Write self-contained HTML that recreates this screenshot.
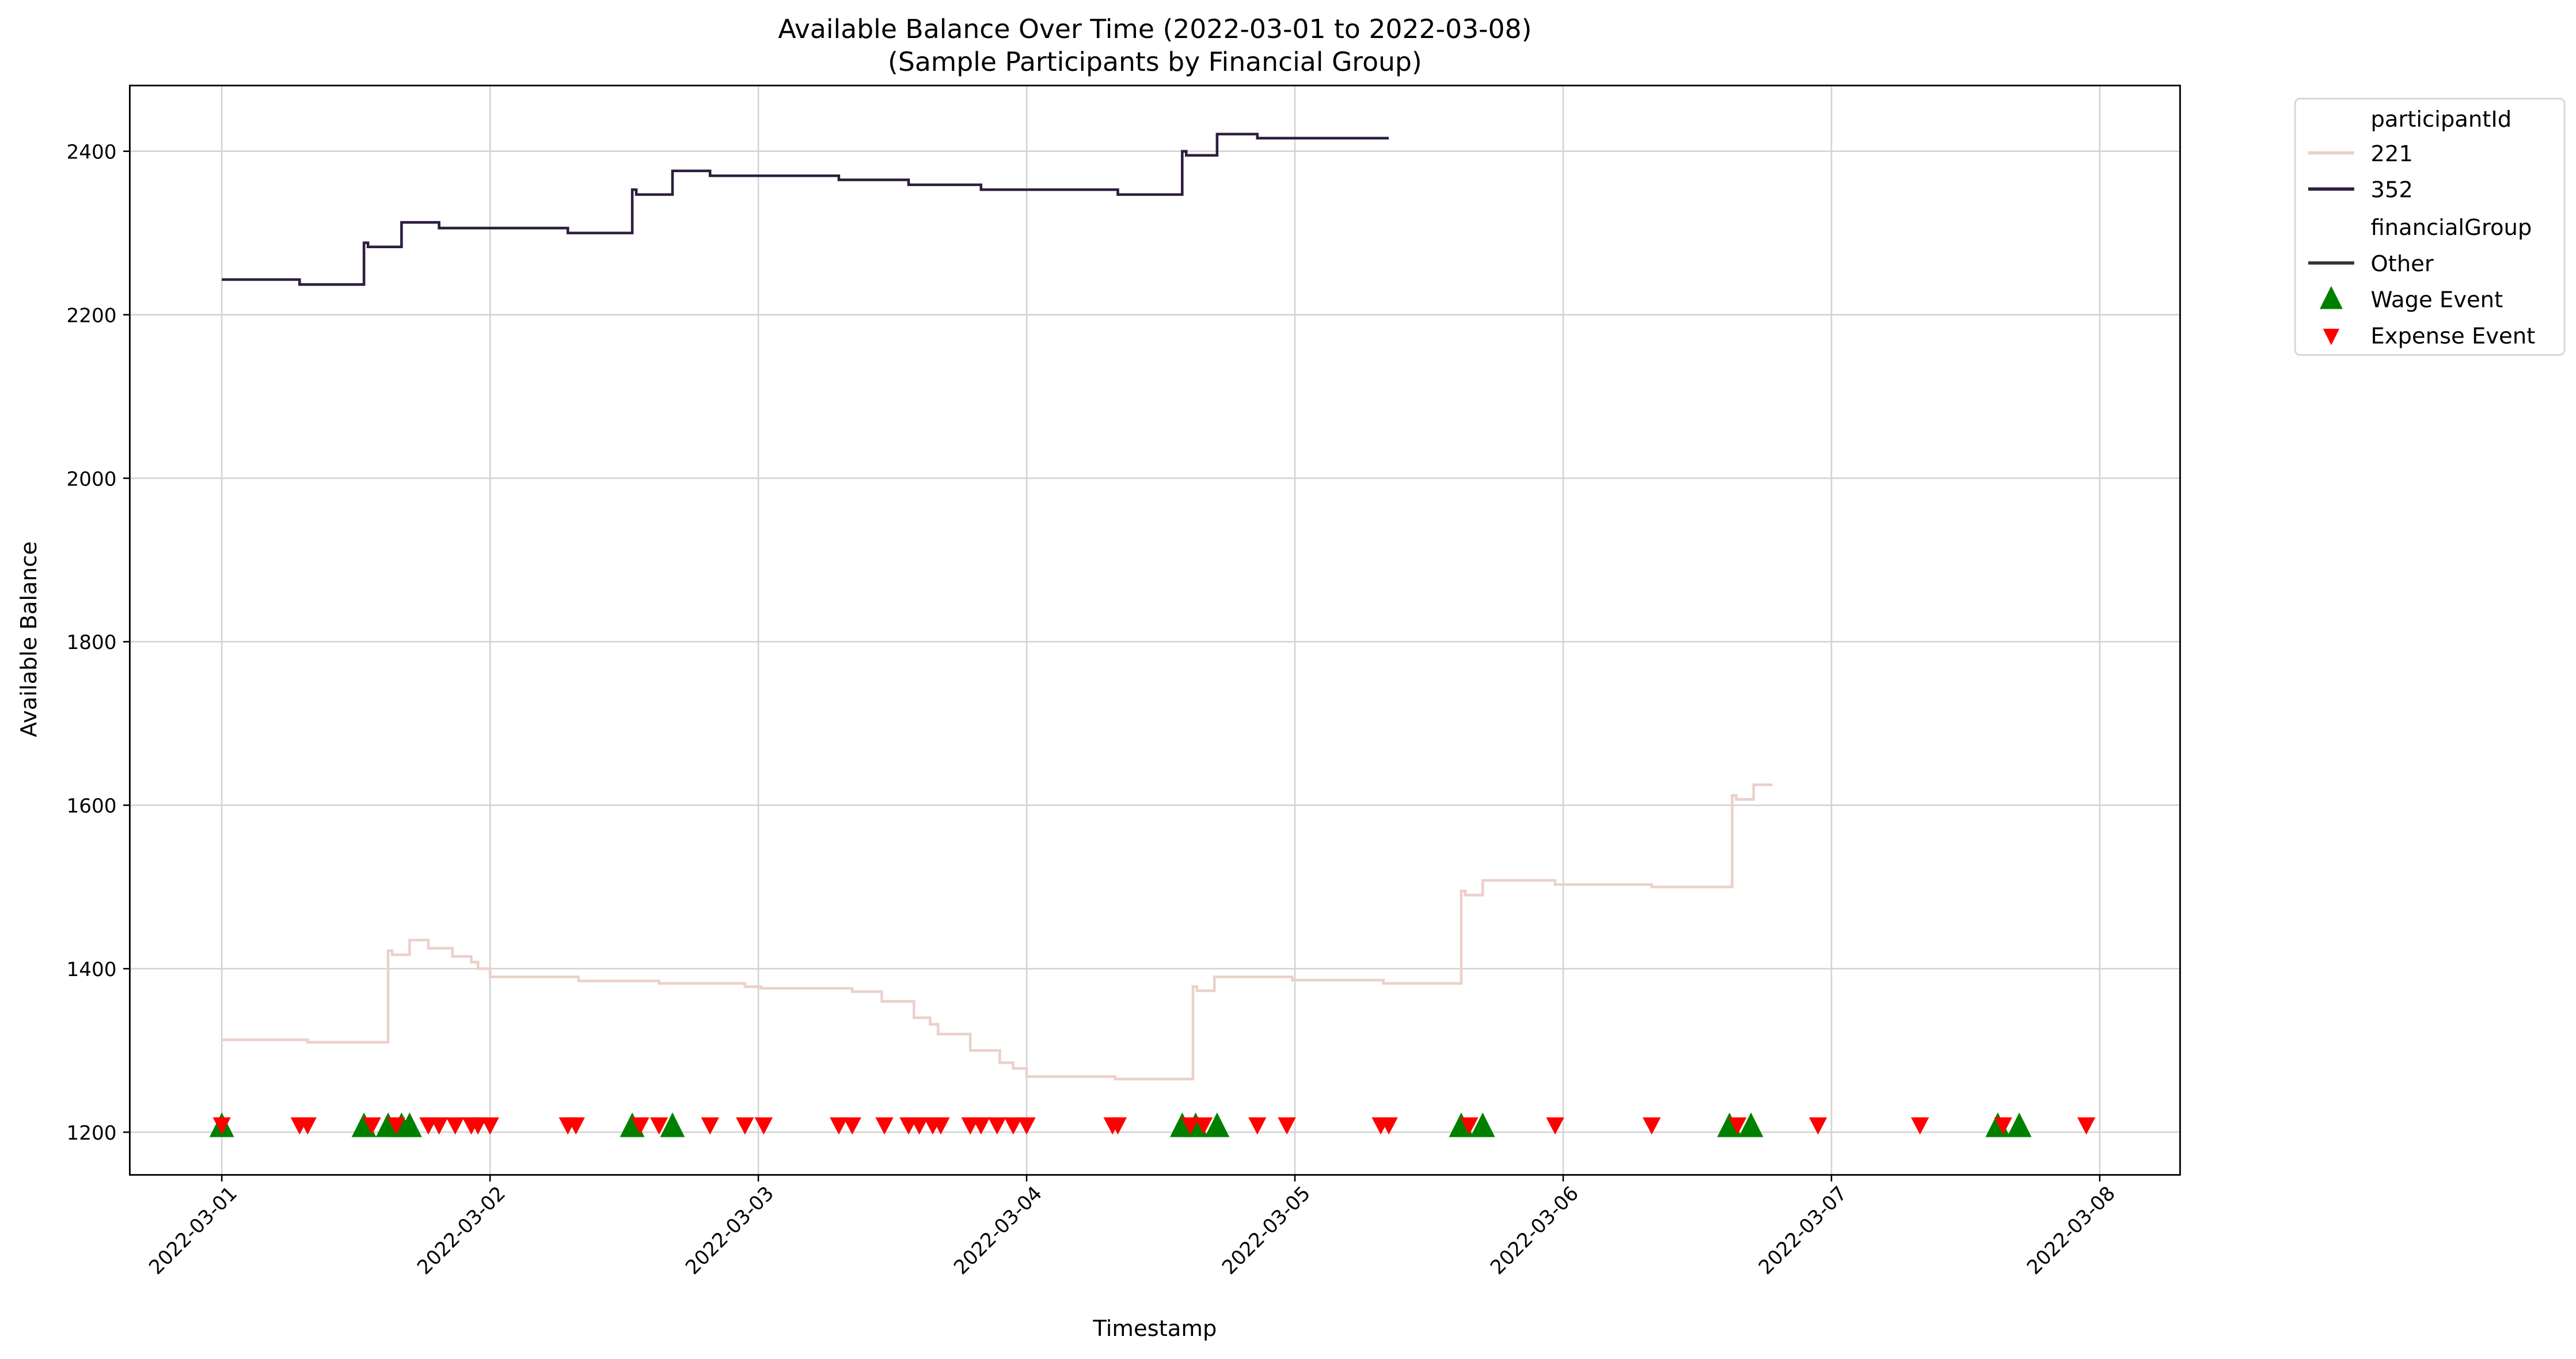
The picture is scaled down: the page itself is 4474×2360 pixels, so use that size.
<!DOCTYPE html>
<html><head><meta charset="utf-8"><style>
html,body{margin:0;padding:0;background:#fff}
svg{display:block;font-family:"DejaVu Sans","Liberation Sans",sans-serif}
</style></head><body>
<svg id="chart" width="4474" height="2360" viewBox="0 0 1568 827" xmlns="http://www.w3.org/2000/svg">
<rect width="1568" height="827" fill="#fff"/>
<g id="grid"></g>
<g id="lines"></g>
<g id="markers"></g>
<rect x="79" y="52" width="1248" height="663" fill="none" stroke="#000" stroke-width="1"/>
<g id="axes"></g>
<text x="703" y="23" text-anchor="middle" font-size="16">Available Balance Over Time (2022-03-01 to 2022-03-08)</text>
<text x="703" y="43" text-anchor="middle" font-size="16">(Sample Participants by Financial Group)</text>
<text x="703" y="813" text-anchor="middle" font-size="13.5">Timestamp</text>
<text transform="translate(22,389) rotate(-90)" text-anchor="middle" font-size="13.5">Available Balance</text>
<g>
<rect x="1397" y="60" width="164" height="156" rx="3" fill="#fff" stroke="#d6d6d6"/>
<text x="1443" y="77" font-size="13.5">participantId</text>
<line x1="1405" y1="93" x2="1433" y2="93" stroke="#ebd0ca" stroke-width="2"/>
<text x="1443" y="98" font-size="13.5">221</text>
<line x1="1405" y1="115" x2="1433" y2="115" stroke="#2d1e3e" stroke-width="2"/>
<text x="1443" y="120" font-size="13.5">352</text>
<text x="1443" y="143" font-size="13.5">financialGroup</text>
<line x1="1405" y1="160" x2="1433" y2="160" stroke="#333" stroke-width="2"/>
<text x="1443" y="165" font-size="13.5">Other</text>
<polygon points="1419,174 1426,188 1412,188" fill="#008000"/>
<text x="1443" y="187" font-size="13.5">Wage Event</text>
<polygon points="1414,200 1424,200 1419,210" fill="#ff0000"/>
<text x="1443" y="209" font-size="13.5">Expense Event</text>
</g>
</svg>
<script>
const days221 = [0,0.32,0.62,0.635,0.70,0.77,0.86,0.93,0.955,1.0,1.33,1.63,1.95,2.01,2.35,2.46,2.58,2.64,2.67,2.79,2.90,2.95,3.0,3.33,3.62,3.635,3.70,3.99,4.33,4.62,4.635,4.70,4.97,5.33,5.63,5.645,5.71,5.78];
const vals221 = [1313,1310,1422,1417,1435,1425,1415,1408,1400,1390,1385,1382,1378,1376,1372,1360,1340,1332,1320,1300,1285,1278,1268,1265,1378,1373,1390,1386,1382,1495,1490,1508,1503,1500,1612,1607,1625,1625];
const days352 = [0,0.29,0.53,0.545,0.67,0.81,1.29,1.53,1.545,1.68,1.82,2.30,2.56,2.83,3.34,3.58,3.595,3.71,3.86,4.35];
const vals352 = [2243,2237,2288,2283,2313,2306,2300,2353,2347,2376,2370,2365,2359,2353,2347,2400,2395,2421,2416,2416];
const wageDays = [0,0.53,0.62,0.67,0.70,1.53,1.68,3.58,3.63,3.71,4.62,4.70,5.62,5.70,6.62,6.70];
const expenseDays = [0,0.29,0.32,0.56,0.65,0.77,0.81,0.87,0.93,0.955,1.0,1.29,1.32,1.56,1.63,1.82,1.95,2.02,2.30,2.35,2.47,2.56,2.60,2.65,2.68,2.79,2.83,2.89,2.95,3.0,3.32,3.34,3.61,3.66,3.86,3.97,4.32,4.35,4.65,4.97,5.33,5.65,5.95,6.33,6.64,6.95];
const eventValue = 1200;
const xTickLabels = ["2022-03-01","2022-03-02","2022-03-03","2022-03-04","2022-03-05","2022-03-06","2022-03-07","2022-03-08"];
const yTicks = [1200,1400,1600,1800,2000,2200,2400];

const NS="http://www.w3.org/2000/svg";
function xs(d){return 135+d*163.3;}
function ys(v){return 689-(v-1200)*0.4975;}
function mk(tag,attrs,parent){const e=document.createElementNS(NS,tag);for(const k in attrs)e.setAttribute(k,attrs[k]);parent.appendChild(e);return e;}
const grid=document.getElementById('grid'),axes=document.getElementById('axes'),lines=document.getElementById('lines'),markers=document.getElementById('markers');
xTickLabels.forEach((lab,i)=>{
  const x=xs(i);
  const g=mk('line',{x1:x,y1:52,x2:x,y2:715,stroke:'#d3d3d3','stroke-width':0.9},grid);
  
  
  const t=mk('line',{x1:x,y1:715,x2:x,y2:719,stroke:'#000','stroke-width':0.9},axes);
  
  
  const tx=mk('text',{x:0,y:0,'font-size':12,'text-anchor':'end',transform:`translate(${x+10},${727}) rotate(-45)`},axes);
  tx.textContent=lab;
  
  
});
yTicks.forEach(v=>{
  const y=ys(v);
  const g=mk('line',{x1:79,y1:y,x2:1327,y2:y,stroke:'#d3d3d3','stroke-width':0.9},grid);
  
  
  const t=mk('line',{x1:75,y1:y,x2:79,y2:y,stroke:'#000','stroke-width':0.9},axes);
  
  
  const tx=mk('text',{x:71,y:y+4.5,'font-size':12,'text-anchor':'end'},axes);
  tx.textContent=v;
  
  
});
function stepPath(ds,vs){let p='M'+xs(ds[0])+','+ys(vs[0]);for(let i=1;i<ds.length;i++){p+=' L'+xs(ds[i])+','+ys(vs[i-1])+' L'+xs(ds[i])+','+ys(vs[i]);}return p;}
const l1=mk('path',{d:stepPath(days221,vals221),fill:'none',stroke:'#ebd0ca','stroke-width':1.6},lines);


const l2=mk('path',{d:stepPath(days352,vals352),fill:'none',stroke:'#2d1e3e','stroke-width':1.6},lines);


wageDays.forEach(d=>{
  const x=xs(d),y=ys(eventValue);
  const m=mk('polygon',{points:`${x},${y-12} ${x+7.5},${y+3} ${x-7.5},${y+3}`,fill:'#008000'},markers);
  
  
});
expenseDays.forEach(d=>{
  const x=xs(d),y=ys(eventValue);
  const m=mk('polygon',{points:`${x-5.5},${y-9} ${x+5.5},${y-9} ${x},${y+1.5}`,fill:'#ff0000'},markers);
  
  
});
</script>
</body></html>
